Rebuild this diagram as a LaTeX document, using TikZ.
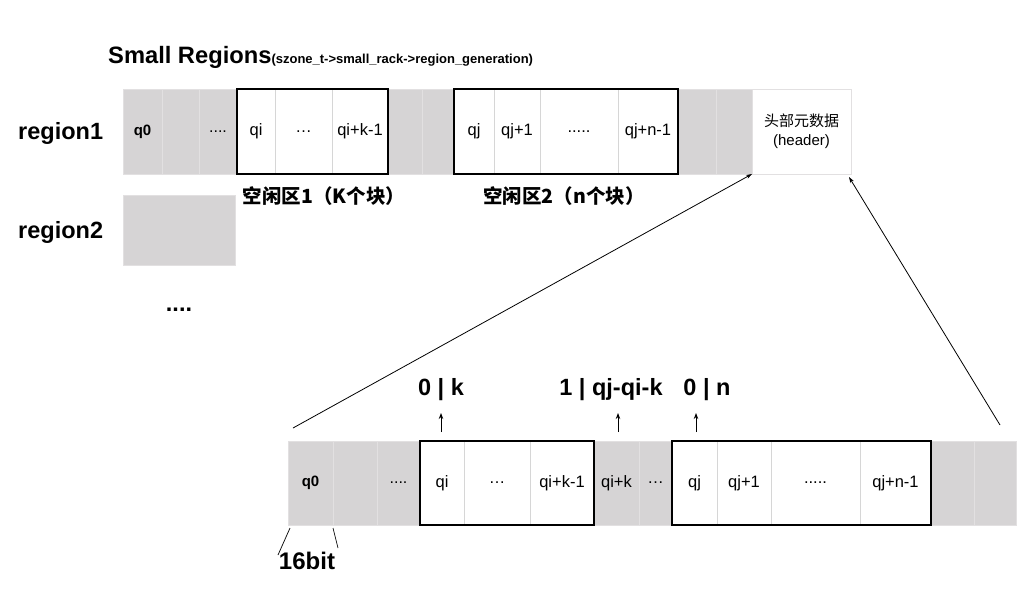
\documentclass[tikz,border=0pt]{standalone}
\usepackage{fontspec}
\setmainfont{Liberation Sans}
\newfontfamily\cjk{Noto Sans CJK SC}
\usetikzlibrary{arrows.meta}
\definecolor{cellgray}{RGB}{214,212,213}
\definecolor{sepgray}{RGB}{226,224,225}
\definecolor{wsep}{RGB}{214,214,214}
\newcommand\mycell[7]{\node[#2, minimum width={#4-#3}, minimum height={#6-#5}] (#1) at ({(#3+#4)/2},{(#5+#6)/2}) {#7};}
\begin{document}
\begin{tikzpicture}[x=1pt,y=-1pt,
  base/.style={inner sep=0pt, outer sep=0pt, line width=0.7pt, font=\fontsize{16.5}{16.5}\selectfont},
  gcell/.style={base, draw=sepgray, fill=cellgray},
  wcell/.style={base, draw=wsep, fill=white},
  boldq/.style={font=\fontsize{15}{15}\selectfont\bfseries},
  freebox/.style={draw=black, line width=1.6pt},
  biglabel/.style={font=\fontsize{23.5}{23.5}\selectfont\bfseries, inner sep=0pt},
  cjklabel/.style={font=\fontsize{19.5}{19.5}\selectfont\cjk\bfseries, inner sep=0pt},
  ptr/.style={-{Stealth[length=6pt,width=4pt]}, line width=0.8pt},
  uparrow/.style={-{Stealth[length=6pt,width=4.5pt]}, line width=0.9pt},
  thin/.style={line width=0.7pt}]
\useasboundingbox (0,0) rectangle (1024,598);
\fill[white] (0,0) rectangle (1024,598);

% title
\node[anchor=base west, inner sep=0pt] (title) at (108,63)
  {\fontsize{23.7}{24}\selectfont\bfseries Small Regions{\fontsize{13}{13}\selectfont(szone\_t->small\_rack->region\_generation)}};

% left labels
\node[biglabel, anchor=west] (r1) at (18,133) {region1};
\node[biglabel, anchor=west] (r2) at (18,232) {region2};
\node[biglabel, anchor=base] (rdots) at (179,311) {....};

% ---- top row ----
\mycell{t1}{gcell,boldq}{123}{162}{89}{174}{q0}
\mycell{t2}{gcell}{162}{199}{89}{174}{}
\mycell{t3}{gcell}{199}{237}{89}{174}{{\fontsize{16}{16}\selectfont....}}
\mycell{t4}{wcell}{237}{275}{89}{174}{qi}
\mycell{t5}{wcell}{275}{332}{89}{174}{…}
\mycell{t6}{wcell}{332}{388}{89}{174}{qi+k-1}
\mycell{t7}{gcell}{388}{422}{89}{174}{}
\mycell{t8}{gcell}{422}{454}{89}{174}{}
\mycell{t9}{wcell}{454}{494}{89}{174}{qj}
\mycell{t10}{wcell}{494}{540}{89}{174}{qj+1}
\mycell{t11}{wcell}{540}{618}{89}{174}{.....}
\mycell{t12}{wcell}{618}{678}{89}{174}{qj+n-1}
\mycell{t13}{gcell}{678}{716}{89}{174}{}
\mycell{t14}{gcell}{716}{752}{89}{174}{}
\node[base, draw=sepgray, fill=white, minimum width=99pt, minimum height=85pt, align=center,
      font=\fontsize{15}{19}\selectfont] (header) at (801.5,131.5)
  {{\cjk 头部元数据}\\(header)};
\draw[freebox] (t4.north west) rectangle (t6.south east);
\draw[freebox] (t9.north west) rectangle (t12.south east);

\node[cjklabel] (free1) at (324,196) {空闲区1（K个块）};
\node[cjklabel] (free2) at (564,196) {空闲区2（n个块）};

% region2
\mycell{reg2}{gcell}{123}{235}{195}{265}{}

% ---- bottom row ----
\mycell{b1}{gcell,boldq}{288}{333}{441}{525}{q0}
\mycell{b2}{gcell}{333}{377}{441}{525}{}
\mycell{b3}{gcell}{377}{420}{441}{525}{{\fontsize{16}{16}\selectfont....}}
\mycell{b4}{wcell}{420}{464}{441}{525}{qi}
\mycell{b5}{wcell}{464}{530}{441}{525}{…}
\mycell{b6}{wcell}{530}{594}{441}{525}{qi+k-1}
\mycell{b7}{gcell}{594}{639}{441}{525}{qi+k}
\mycell{b8}{gcell}{639}{672}{441}{525}{…}
\mycell{b9}{wcell}{672}{717}{441}{525}{qj}
\mycell{b10}{wcell}{717}{771}{441}{525}{qj+1}
\mycell{b11}{wcell}{771}{860}{441}{525}{.....}
\mycell{b12}{wcell}{860}{931}{441}{525}{qj+n-1}
\mycell{b13}{gcell}{931}{974}{441}{525}{}
\mycell{b14}{gcell}{974}{1016}{441}{525}{}
\draw[freebox] (b4.north west) rectangle (b6.south east);
\draw[freebox] (b9.north west) rectangle (b12.south east);

% value labels with arrows
\node[biglabel] (lk) at (441,390) {0 | k};
\node[biglabel] (lq) at (611,390) {1 | qj-qi-k};
\node[biglabel] (ln) at (707,390) {0 | n};
\coordinate (ak0) at (441,432); \coordinate (ak1) at (441,413);
\coordinate (aq0) at (618,432); \coordinate (aq1) at (618,413);
\coordinate (an0) at (696,432); \coordinate (an1) at (696,413);
\draw[uparrow] (ak0) -- (ak1);
\draw[uparrow] (aq0) -- (aq1);
\draw[uparrow] (an0) -- (an1);

% 16bit
\node[biglabel, font=\fontsize{24}{24}\selectfont\bfseries] (bits) at (307,561) {16bit};
\coordinate (s1a) at (290,528); \coordinate (s1b) at (278,555);
\coordinate (s2a) at (333,528); \coordinate (s2b) at (338,548);
\draw[thin] (s1a) -- (s1b);
\draw[thin] (s2a) -- (s2b);

% zoom lines to header
\coordinate (zl) at (293,428);
\coordinate (zr) at (1000,425);
\draw[ptr] (zl) -- (header.south west);
\draw[ptr] (zr) -- ([xshift=-2pt,yshift=-3pt]header.south east);
\end{tikzpicture}
\end{document}
